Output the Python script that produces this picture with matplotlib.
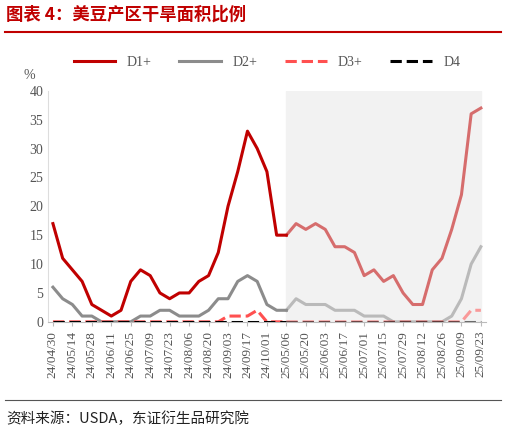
import numpy as np
import matplotlib.pyplot as plt

dates = ['24/04/30', '24/05/07', '24/05/14', '24/05/21', '24/05/28', '24/06/04', '24/06/11', '24/06/18',
         '24/06/25', '24/07/02', '24/07/09', '24/07/16', '24/07/23', '24/07/30', '24/08/06', '24/08/13',
         '24/08/20', '24/08/27', '24/09/03', '24/09/10', '24/09/17', '24/09/24', '24/10/01', '24/10/08',
         '25/05/06', '25/05/13', '25/05/20', '25/05/27', '25/06/03', '25/06/10', '25/06/17', '25/06/24',
         '25/07/01', '25/07/08', '25/07/15', '25/07/22', '25/07/29', '25/08/05', '25/08/12', '25/08/19',
         '25/08/26', '25/09/02', '25/09/09', '25/09/16', '25/09/23']
d1 = [17, 11, 9, 7, 3, 2, 1, 2, 7, 9, 8, 5, 4, 5, 5, 7, 8, 12, 20, 26, 33, 30, 26, 15,
      15, 17, 16, 17, 16, 13, 13, 12, 8, 9, 7, 8, 5, 3, 3, 9, 11, 16, 22, 36, 37]
d2 = [6, 4, 3, 1, 1, 0, 0, 0, 0, 1, 1, 2, 2, 1, 1, 1, 2, 4, 4, 7, 8, 7, 3, 2,
      2, 4, 3, 3, 3, 2, 2, 2, 1, 1, 1, 0, 0, 0, 0, 0, 0, 1, 4, 10, 13]
d3 = [0, 0, 0, 0, 0, 0, 0, 0, 0, 0, 0, 0, 0, 0, 0, 0, 0, 0, 1, 1, 1, 2, 0, 0,
      0, 0, 0, 0, 0, 0, 0, 0, 0, 0, 0, 0, 0, 0, 0, 0, 0, 0, 0, 2, 2]
d4 = [0] * len(dates)

plt.rcParams['font.family'] = ['Liberation Serif', 'Noto Sans CJK SC']

fig = plt.figure(figsize=(5.06, 4.32), dpi=100)
ax = fig.add_axes([0.095, 0.255, 0.865, 0.535])
x = np.arange(len(dates))
split = dates.index('25/05/06')

ax.axvspan(split, len(dates) - 1, color='#f2f2f2', zorder=0)

styles = [(d1, '#c00000', '-', 'D1+'), (d2, '#8c8c8c', '-', 'D2+'),
          (d3, '#ff5050', '--', 'D3+'), (d4, '#000000', '--', 'D4')]
for ys, c, ls, lab in styles:
    ys = np.array(ys, dtype=float)
    ax.plot(x[:split + 1], ys[:split + 1], color=c, ls=ls, lw=2.2, label=lab, zorder=3)
    ax.plot(x[split:], ys[split:], color=c, ls=ls, lw=2.2, alpha=0.55, zorder=3)

ax.set_xlim(-0.5, len(dates) - 0.5)
ax.set_ylim(0, 40)
ax.set_yticks(range(0, 41, 5))
ax.set_xticks(x[::2])
ax.set_xticklabels(dates[::2], rotation=90, fontsize=9.5, color='#555555')
ax.tick_params(axis='y', labelsize=10, colors='#555555', length=0)
ax.tick_params(axis='x', length=3, colors='#bbbbbb', labelcolor='#555555')
for s in ['top', 'right']:
    ax.spines[s].set_visible(False)
ax.spines['left'].set_color('#dddddd')
ax.spines['bottom'].set_color('#bbbbbb')
ax.text(-0.055, 1.05, '%', transform=ax.transAxes, fontsize=10, color='#555555')
ax.legend(loc='lower center', bbox_to_anchor=(0.5, 1.04), ncol=4, frameon=False,
          fontsize=10, handlelength=3, columnspacing=2.0, labelcolor='#555555')

fig.text(0.012, 0.955, '图表 4：美豆产区干旱面积比例', fontsize=12.5, color='#c00000',
         fontweight='bold', family=['Noto Sans CJK SC'])
fig.add_artist(plt.Line2D([0.01, 0.99], [0.925, 0.925], color='#c00000', lw=1.5))
fig.add_artist(plt.Line2D([0.01, 0.99], [0.075, 0.075], color='#555555', lw=0.8))
fig.text(0.012, 0.02, '资料来源：USDA，东证衍生品研究院', fontsize=10.5, color='#222222',
         family=['Noto Sans CJK SC'])

plt.savefig('out.png')
